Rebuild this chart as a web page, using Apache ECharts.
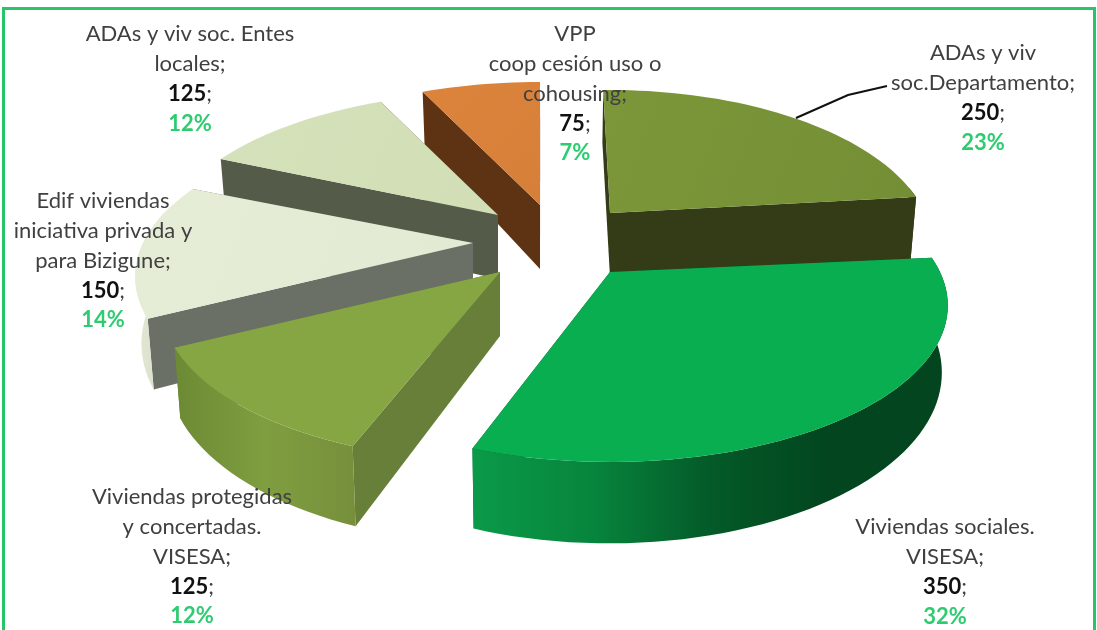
<!DOCTYPE html>
<html>
<head>
<meta charset="utf-8">
<style>html,body{margin:0;padding:0;background:#fff}#c{width:1097px;height:630px}</style>
<script src="https://cdn.jsdelivr.net/npm/echarts@6/dist/echarts.min.js"></script>
</head>
<body>
<div id="c"></div>
<script>
// ---- data ----
var categories = [
  'ADAs y viv\nsoc.Departamento;',
  'Viviendas sociales.\nVISESA;',
  'Viviendas protegidas\ny concertadas.\nVISESA;',
  'Edif viviendas\niniciativa privada y\npara Bizigune;',
  'ADAs y viv soc. Entes\nlocales;',
  'VPP\ncoop cesión uso o\ncohousing;'
];
var values = [250, 350, 125, 150, 125, 75];
var percentLabels = ['23%', '32%', '12%', '14%', '12%', '7%'];

// ---- layout and styles ----
var apexes = [[610,213],[610,272],[500,272],[473,243],[498,215],[540,205]];
var angleAdjust = [[-1.5,0],[0.7,-1.5],[0,0],[0,0],[1,0],[0,0]];
var xScale = [0.955,1,1,1,1,1];
var layers = [1,5,4,3,2,1];
var topColors = [
  ['#7c9739','#748e35'],['#09ae50','#09ae50'],['#86a644','#86a644'],
  ['#e5edd7','#e2ead3'],['#d5e1ba','#d2deb5'],['#dc843c','#d67f38']
];
var faceColors = ['#333b17','#06522a','#677f38','#6a7066','#555b49','#5d3313'];
var rimStops = [
  ['#333b17','#333b17'],['#0a9a48','#07853d','#045a28','#02451f','#02451f'],['#6c8a34','#7f9e40','#778f3b'],
  ['#e2e8d5','#d5dcc5'],['#555b49','#555b49'],['#5d3313','#5d3313']
];
var labelPos = [[983,38.5],[945,512.5],[192,482.5],[103,186.5],[190,19.5],[575,19.5]];
var RX = 330, RY = 149.3, K = 0.214, DEPTH = 64, VX = 550;

var total = values.reduce(function (a, b) { return a + b; }, 0);
var startAngles = [];
values.reduce(function (acc, v, i) { startAngles[i] = acc; return acc + v; }, 0);

function rimPoint(i, deg) {
  var t = deg * Math.PI / 180, Y = -Math.cos(t), s = 1 / (1 - K * Y);
  return { x: apexes[i][0] + Math.sin(t) * s * RX * xScale[i], y: apexes[i][1] + Y * s * RY, s: s };
}
function lowered(p) { return [p.x - (p.x - VX) * 0.015, p.y + DEPTH * p.s]; }
function arcDegrees(a, b) {
  var out = [], n = Math.max(2, Math.ceil(Math.abs(b - a) / 2));
  for (var j = 0; j <= n; j++) out.push(a + (b - a) * j / n);
  return out;
}

function renderItem(params, api) {
  var i = params.dataIndex, value = api.value(1);
  var a0 = startAngles[i] / total * 360 + angleAdjust[i][0];
  var a1 = (startAngles[i] + value) / total * 360 + angleAdjust[i][1];
  var apex = apexes[i], apexLow = [apex[0], apex[1] + DEPTH];
  var z = layers[i] * 10, kids = [];
  function poly(points, fill, dz) {
    kids.push({ type: 'polygon', z2: z + dz, shape: { points: points }, style: { fill: fill, stroke: null } });
  }
  [a0, a1].forEach(function (deg) {
    var p = rimPoint(i, deg);
    poly([apex, [p.x, p.y], lowered(p), apexLow], faceColors[i], 0);
  });
  var lo = Math.max(a0, 80), hi = Math.min(a1, 282);
  if (hi > lo) {
    var degs = arcDegrees(lo, hi);
    var upper = degs.map(function (d) { var p = rimPoint(i, d); return [p.x, p.y]; });
    var lower = degs.map(function (d) { return lowered(rimPoint(i, d)); }).reverse();
    var stops = rimStops[i].map(function (c, n, arr) { return { offset: n / (arr.length - 1), color: c }; });
    poly(upper.concat(lower), { type: 'linear', x: 0, y: 0, x2: 1, y2: 0, colorStops: stops }, 1);
  }
  var topPts = [apex].concat(arcDegrees(a0, a1).map(function (d) { var p = rimPoint(i, d); return [p.x, p.y]; }));
  poly(topPts, { type: 'linear', x: 0, y: 0, x2: 1, y2: 1,
    colorStops: [{ offset: 0, color: topColors[i][0] }, { offset: 1, color: topColors[i][1] }] }, 2);

  var text = categories[i].split('\n').map(function (l) { return '{n|' + l + '}'; }).join('\n') +
    '\n{v|' + value + '}{n|;}\n{p|' + percentLabels[i] + '}';
  kids.push({
    type: 'text', z2: 200, x: labelPos[i][0], y: labelPos[i][1],
    style: {
      text: text, align: 'center', verticalAlign: 'top',
      font: '22px Lato', fill: '#404040', lineHeight: 29.7,
      rich: {
        n: { font: '22px Lato', fill: '#404040', lineHeight: 29.7 },
        v: { font: 'bold 22px Lato', fill: '#111111', lineHeight: 29.7 },
        p: { font: 'bold 22px Lato', fill: '#2ecc71', lineHeight: 29.7 }
      }
    }
  });
  if (i === 0) {
    kids.push({ type: 'polyline', z2: 150,
      shape: { points: [[796,118],[848,95],[887,86]] },
      style: { stroke: '#111111', lineWidth: 2, fill: null } });
  }
  return { type: 'group', children: kids };
}

var chart = echarts.init(document.getElementById('c'), null, { renderer: 'canvas' });
chart.setOption({
  animation: false,
  backgroundColor: '#ffffff',
  graphic: [{
    type: 'rect', silent: true, z: -1,
    shape: { x: 3.5, y: 8.5, width: 1091, height: 623 },
    style: { fill: null, stroke: '#27c46c', lineWidth: 3 }
  }],
  series: [{
    type: 'custom',
    coordinateSystem: 'none',
    renderItem: renderItem,
    silent: true,
    data: values.map(function (v, i) { return [i, v]; })
  }]
});
</script>
</body>
</html>
